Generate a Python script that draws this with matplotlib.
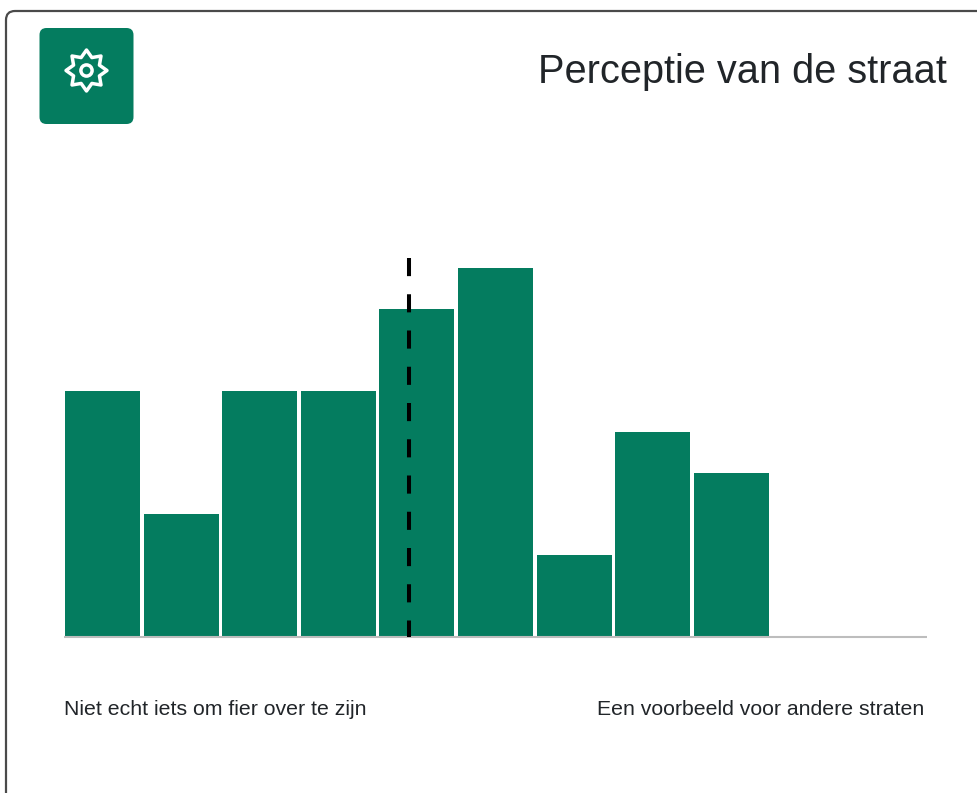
import numpy as np
import matplotlib
matplotlib.use('Agg')
import matplotlib.pyplot as plt
from matplotlib.patches import FancyBboxPatch, Polygon, Circle

# histogram of scores
scores = [0, 1, 2, 3, 4, 5, 6, 7, 8, 9, 10]
counts = [6, 3, 6, 6, 8, 9, 2, 5, 4, 0, 0]
mean_score = 3.9

title = 'Perceptie van de straat'
label_low = 'Niet echt iets om fier over te zijn'
label_high = 'Een voorbeeld voor andere straten'

green = '#047c5f'
textcol = '#212529'

W, H = 978, 793
plt.rcParams['font.family'] = ['Liberation Sans', 'DejaVu Sans']
fig = plt.figure(figsize=(W / 100, H / 100), dpi=100, facecolor='white')

# overlay in pixel coords for the card, the button and the texts
bg = fig.add_axes([0, 0, 1, 1])
bg.set_xlim(0, W)
bg.set_ylim(H, 0)
bg.axis('off')

card = FancyBboxPatch((6, 11), 1100, 1000, boxstyle='round,pad=0,rounding_size=9',
                      fc='white', ec='#4a4a4a', lw=1.6)
bg.add_patch(card)
btn = FancyBboxPatch((39.5, 28), 94, 96, boxstyle='round,pad=0,rounding_size=7',
                     fc=green, ec='none')
bg.add_patch(btn)

# gear icon: eight pointed star with a ring in it
ang = np.linspace(0, 2 * np.pi, 16, endpoint=False) - np.pi / 2
rad = np.where(np.arange(16) % 2 == 0, 20.5, 14)
star = np.column_stack([86.5 + rad * np.cos(ang), 70.5 + rad * np.sin(ang)])
bg.add_patch(Polygon(star, closed=True, fc='none', ec='white', lw=2.5, joinstyle='round'))
bg.add_patch(Circle((86.5, 70.5), 5.6, fc='none', ec='white', lw=2.5))

bg.text(947, 72, title, ha='right', va='center', fontsize=28.6, color=textcol)
bg.text(64, 715, label_low, ha='left', va='baseline', fontsize=15.35, color=textcol)
bg.text(924, 715, label_high, ha='right', va='baseline', fontsize=15.35, color=textcol)

# chart axes: 64..928 px wide, baseline at 637 px, 41 px per count
top = 637 - 41 * 10
ax = fig.add_axes([63.5 / W, 1 - 637 / H, 864 / W, (637 - top) / H])
ax.patch.set_alpha(0)
ax.bar(scores, counts, width=0.955, color=green)
ax.set_xlim(-0.5, 10.5)
ax.set_ylim(0, 10)
ax.set_xticks([])
ax.set_yticks([])
for s in ['top', 'left', 'right']:
    ax.spines[s].set_visible(False)
ax.spines['bottom'].set_color('#bdbdbd')
ax.spines['bottom'].set_linewidth(1.5)
ax.spines['bottom'].set_capstyle('butt')

# drawn from the top down so that the dash pattern starts up there
ax.plot([mean_score, mean_score], [9.24, 0], color='black', lw=2.9,
        dashes=(4.5, 4.5), dash_capstyle='butt', zorder=5)

fig.savefig('out.png', dpi=100)
